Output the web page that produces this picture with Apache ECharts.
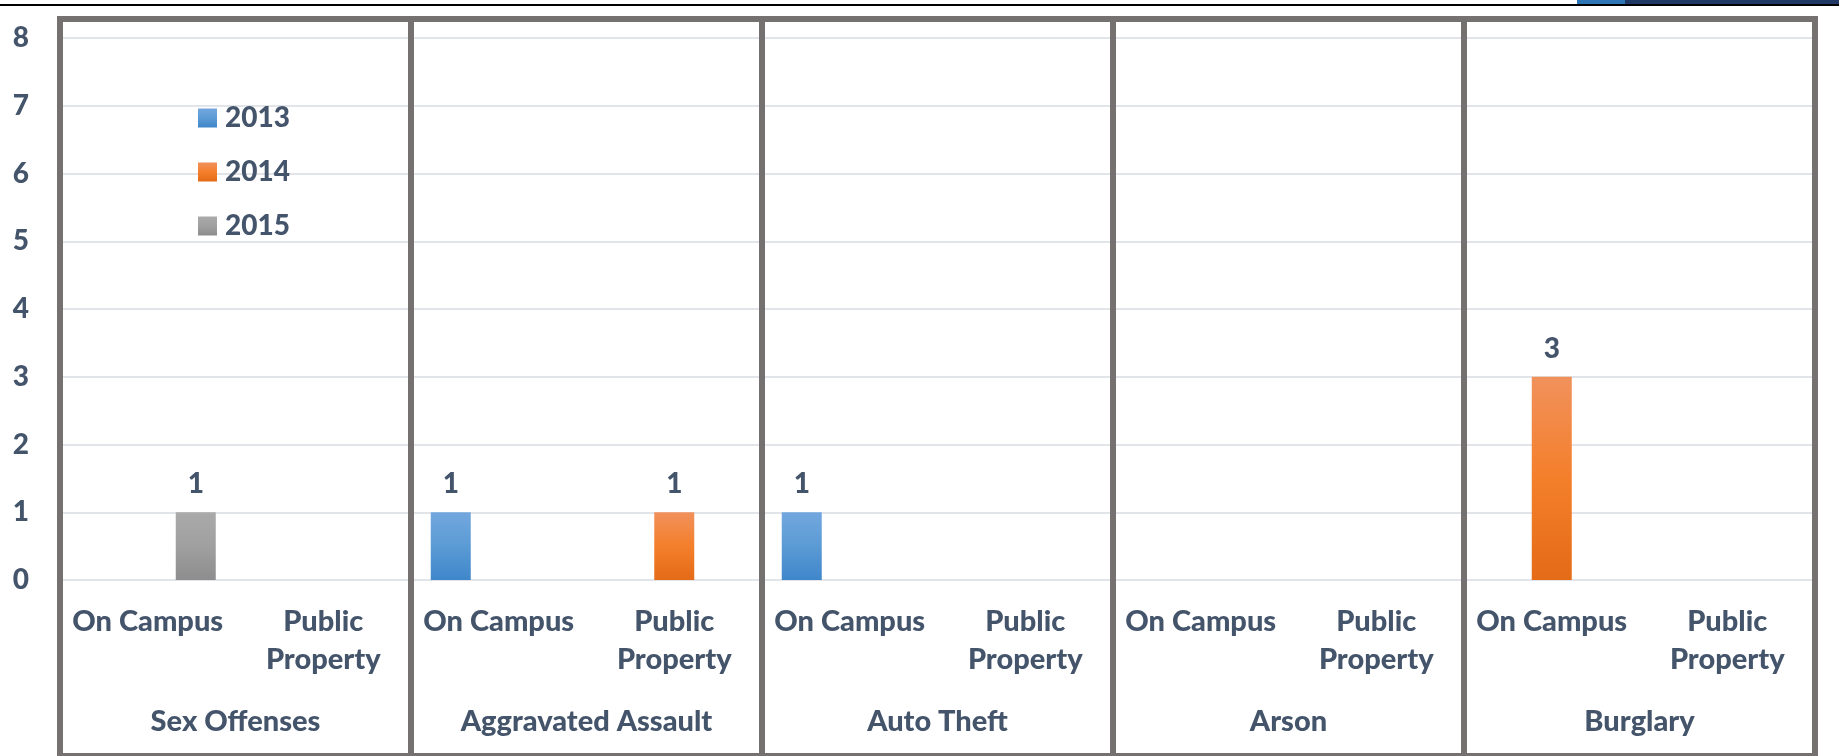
<!DOCTYPE html>
<html>
<head>
<meta charset="utf-8">
<script src="https://cdn.jsdelivr.net/npm/echarts@6/dist/echarts.min.js"></script>
<style>
  html, body { margin: 0; padding: 0; background: #fff; }
  #chart { width: 1839px; height: 756px; }
</style>
</head>
<body>
<div id="chart"></div>
<script>
// crime counts by location, grouped by offense
var groups = ['Sex Offenses', 'Aggravated Assault', 'Auto Theft', 'Arson', 'Burglary'];
var places = ['On Campus', 'Public\nProperty'];
var years = ['2013', '2014', '2015'];
var yTicks = [0, 8, 1]; // min, max, interval

// one value per (group, place), in group order
var values2013 = [0, 0, 1, 0, 1, 0, 0, 0, 0, 0];
var values2014 = [0, 0, 0, 1, 0, 0, 0, 0, 3, 0];
var values2015 = [1, 0, 0, 0, 0, 0, 0, 0, 0, 0];

var textColor = '#44546A';
var frameColor = '#767171';
var font = 'Lato';
var weight = 900;

// sub category axis: On Campus / Public Property repeated per group
var subCats = [];
groups.forEach(function (g) {
  places.forEach(function (p) { subCats.push(p); });
});

function grad(top, mid, bottom) {
  return new echarts.graphic.LinearGradient(0, 0, 0, 1, [
    { offset: 0, color: top },
    { offset: 0.5, color: mid },
    { offset: 1, color: bottom }
  ]);
}
var colors = [
  grad('#72A7DE', '#5B9BD5', '#3F86CA'),
  grad('#F1915C', '#F47F2B', '#E46B17'),
  grad('#AAAAAA', '#A0A0A0', '#8D8D8D')
];

function makeSeries(name, data, color) {
  return {
    name: name,
    type: 'bar',
    xAxisIndex: 1,
    yAxisIndex: 1,
    barWidth: 40,
    barGap: '20%',
    data: data,
    itemStyle: { color: color },
    label: {
      show: true,
      position: 'top',
      distance: 14,
      color: textColor,
      fontFamily: font,
      fontWeight: weight,
      fontSize: 28,
      formatter: function (p) { return p.value ? p.value : ''; }
    }
  };
}

var chart = echarts.init(document.getElementById('chart'), null, { renderer: 'canvas' });

var option = {
  animation: false,
  backgroundColor: '#fff',
  color: colors,
  textStyle: { fontFamily: font },
  graphic: [
    {
      type: 'line',
      shape: { x1: 0, y1: 5, x2: 1839, y2: 5 },
      style: { stroke: '#000', lineWidth: 2 }
    },
    {
      type: 'rect',
      shape: { x: 1577, y: 0, width: 262, height: 4 },
      style: { fill: '#1F3864' }
    },
    {
      type: 'rect',
      shape: { x: 1577, y: 0, width: 48, height: 4 },
      style: { fill: '#2E75B6' }
    }
  ],
  legend: {
    orient: 'vertical',
    left: 193,
    top: 98,
    itemWidth: 19,
    itemHeight: 19,
    itemGap: 24,
    icon: 'rect',
    data: years,
    textStyle: {
      color: textColor,
      fontFamily: font,
      fontWeight: weight,
      fontSize: 28,
      lineHeight: 30,
      padding: [0, 0, 0, 3]
    }
  },
  grid: [
    // outer frame with the panel dividers
    {
      left: 60, right: 24, top: 19, bottom: -10,
      show: true,
      borderColor: frameColor,
      borderWidth: 6,
      backgroundColor: 'transparent',
      z: 10
    },
    // plotting area
    { left: 60, right: 24, top: 38, bottom: 176 }
  ],
  xAxis: [
    {
      gridIndex: 0,
      type: 'category',
      data: groups,
      z: 10,
      axisLine: { show: false },
      axisTick: { show: false },
      axisLabel: { show: false },
      splitLine: {
        show: true,
        interval: 0,
        lineStyle: { color: frameColor, width: 6 }
      }
    },
    {
      gridIndex: 1,
      type: 'category',
      data: subCats,
      axisLine: { show: false },
      axisTick: { show: false },
      axisLabel: {
        interval: 0,
        margin: 23,
        color: textColor,
        fontFamily: font,
        fontWeight: weight,
        fontSize: 29,
        lineHeight: 38
      }
    },
    {
      gridIndex: 1,
      type: 'category',
      position: 'bottom',
      data: groups,
      axisLine: { show: false },
      axisTick: { show: false },
      axisLabel: {
        interval: 0,
        margin: 123,
        color: textColor,
        fontFamily: font,
        fontWeight: weight,
        fontSize: 29,
        lineHeight: 38
      }
    }
  ],
  yAxis: [
    { gridIndex: 0, type: 'value', min: 0, max: 1, show: false },
    {
      gridIndex: 1,
      type: 'value',
      min: yTicks[0],
      max: yTicks[1],
      interval: yTicks[2],
      axisLine: { show: false },
      axisTick: { show: false },
      axisLabel: {
        margin: 31,
        color: textColor,
        fontFamily: font,
        fontWeight: weight,
        fontSize: 28
      },
      splitLine: { lineStyle: { color: '#E1E5EA', width: 2 } }
    }
  ],
  series: [
    makeSeries(years[0], values2013, colors[0]),
    makeSeries(years[1], values2014, colors[1]),
    makeSeries(years[2], values2015, colors[2])
  ]
};

chart.setOption(option);
</script>
</body>
</html>
